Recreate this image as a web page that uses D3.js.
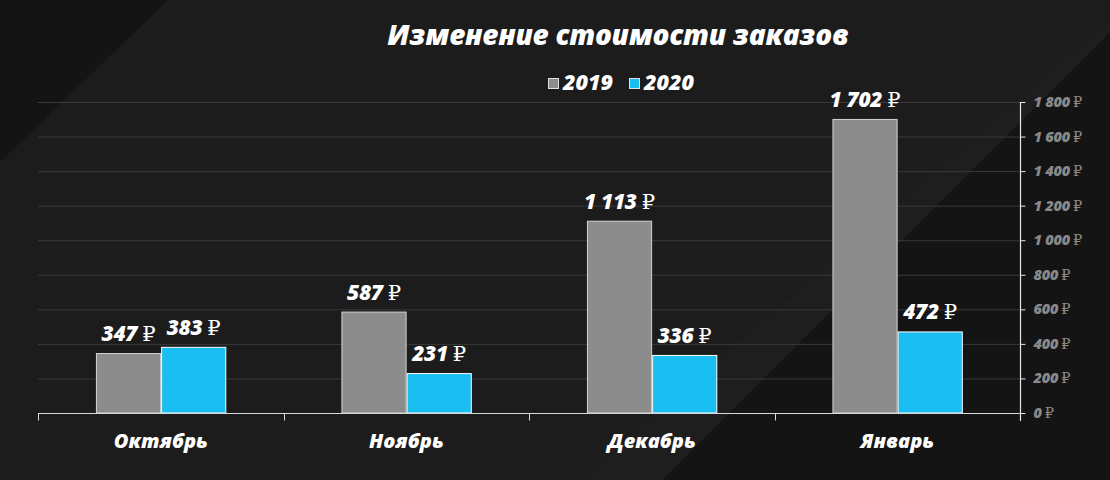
<!DOCTYPE html>
<html lang="ru">
<head>
<meta charset="utf-8">
<script src="https://cdn.jsdelivr.net/npm/d3@7/dist/d3.min.js"></script>
<style>
  html, body { margin: 0; padding: 0; background: #1c1c1c; }
  svg { display: block; }
  text { font-family: "Open Sans", "DejaVu Sans", sans-serif; }
</style>
</head>
<body>
<svg id="chart" width="1110" height="480"></svg>
<script>
// Monthly average order value, 2019 vs 2020
const months = ["Октябрь", "Ноябрь", "Декабрь", "Январь"];
const seriesNames = ["2019", "2020"];
const values2019 = [347, 587, 1113, 1702];
const values2020 = [383, 231, 336, 472];
const yTicks = [0, 200, 400, 600, 800, 1000, 1200, 1400, 1600, 1800];
const titleText = "Изменение стоимости заказов";
const currency = "₽";

const W = 1110, H = 480;
const margin = { left: 38, right: 90, top: 102, bottom: 67 };
const colors = { "2019": "#8c8c8c", "2020": "#1bbef0" };
const strokes = { "2019": "#d4d4d4", "2020": "#ffffff" };

const svg = d3.select("#chart");

// background with diagonal shading
svg.append("rect").attr("width", W).attr("height", H).attr("fill", "#1c1c1c");
svg.append("polygon").attr("points", "0,0 168,0 0,162").attr("fill", "#141414");
svg.append("polygon").attr("points", `${W},20 ${W},${H} 580,${H}`).attr("fill", "#1e1e1e");
svg.append("polygon").attr("points", `${W},32 ${W},${H} 662,${H}`).attr("fill", "#141414");

const fmt = d3.formatLocale({ decimal: ",", thousands: "\u202f", grouping: [3], currency: ["", ""] }).format(",d");
const fmtNum = v => fmt(v).replace(/\u202f/g, " ");

const x = d3.scaleBand().domain(months).range([margin.left, W - margin.right]).padding(0);
const bw = x.bandwidth();
const xs = d3.scaleBand().domain(seriesNames).range([bw * 0.236, bw * 0.767]).padding(0);
const y = d3.scaleLinear().domain([0, 1800]).range([H - margin.bottom, margin.top]);

// gridlines
svg.append("g").selectAll("line").data(yTicks.filter(t => t > 0)).join("line")
  .attr("x1", margin.left).attr("x2", W - margin.right)
  .attr("y1", d => y(d) + 0.5).attr("y2", d => y(d) + 0.5)
  .attr("stroke", "#3a3a3a").attr("stroke-width", 1);

// bars
const rows = months.map((m, i) => ({ month: m, vals: [
  { s: "2019", v: values2019[i] }, { s: "2020", v: values2020[i] }] }));

const groups = svg.append("g").selectAll("g").data(rows).join("g")
  .attr("transform", d => `translate(${x(d.month)},0)`);

groups.selectAll("rect").data(d => d.vals).join("rect")
  .attr("x", d => xs(d.s) + 0.5)
  .attr("y", d => y(d.v) + 0.5)
  .attr("width", xs.bandwidth() - 1)
  .attr("height", d => y(0) - y(d.v) - 0.5)
  .attr("fill", d => colors[d.s])
  .attr("stroke", d => strokes[d.s])
  .attr("stroke-width", 1);

// value labels
const vl = groups.selectAll("text.val").data(d => d.vals).join("text")
  .attr("class", "val")
  .attr("x", d => xs(d.s) + xs.bandwidth() / 2)
  .attr("y", d => y(d.v) - 12)
  .attr("text-anchor", "middle")
  .attr("fill", "#ffffff");
vl.append("tspan").attr("font-size", 21).attr("font-weight", 800).attr("font-style", "italic")
  .attr("letter-spacing", -0.3).text(d => fmtNum(d.v));
vl.append("tspan").attr("font-size", 21).attr("font-family", "DejaVu Serif, Liberation Serif, serif")
  .attr("font-weight", 400).attr("dx", 5).text(currency);

// x axis
const xAxis = svg.append("g").attr("transform", `translate(0,${y(0) + 0.5})`);
xAxis.append("line").attr("x1", margin.left).attr("x2", W - margin.right + 5)
  .attr("stroke", "#d9d9d9").attr("stroke-width", 1.2);
const boundaries = months.map(m => x(m)).concat([W - margin.right]);
xAxis.selectAll("line.tk").data(boundaries).join("line").attr("class", "tk")
  .attr("x1", d => Math.round(d) + 0.5).attr("x2", d => Math.round(d) + 0.5)
  .attr("y1", 0).attr("y2", 7).attr("stroke", "#d9d9d9").attr("stroke-width", 1);
xAxis.selectAll("text").data(months).join("text")
  .attr("x", d => x(d) + bw / 2).attr("y", 34)
  .attr("text-anchor", "middle").attr("fill", "#ffffff")
  .attr("font-size", 20).attr("font-weight", 800).attr("font-style", "italic")
  .attr("letter-spacing", 0)
  .text(d => d);

// right y axis
const yAxisX = W - margin.right + 0.5;
const yAxis = svg.append("g");
yAxis.append("line").attr("x1", yAxisX).attr("x2", yAxisX)
  .attr("y1", y(1800)).attr("y2", y(0) + 8)
  .attr("stroke", "#e6e6e6").attr("stroke-width", 1.2);
yAxis.selectAll("line.tk").data(yTicks).join("line").attr("class", "tk")
  .attr("x1", yAxisX).attr("x2", yAxisX + 5)
  .attr("y1", d => y(d) + 0.5).attr("y2", d => y(d) + 0.5)
  .attr("stroke", "#e6e6e6").attr("stroke-width", 1);
const tl = yAxis.selectAll("text").data(yTicks).join("text")
  .attr("x", yAxisX + 13).attr("y", d => y(d) + 5)
  .attr("fill", "#8a8a8a");
tl.append("tspan").attr("font-size", 14.5).attr("font-weight", 800).attr("font-style", "italic")
  .attr("letter-spacing", -0.2).text(d => fmtNum(d));
tl.append("tspan").attr("font-size", 14.5).attr("font-family", "DejaVu Serif, Liberation Serif, serif")
  .attr("dx", 3).text(currency);

// title
svg.append("text").attr("x", 618).attr("y", 45).attr("text-anchor", "middle")
  .attr("fill", "#ffffff").attr("font-size", 28).attr("font-weight", 800)
  .attr("font-style", "italic").attr("letter-spacing", -0.3).text(titleText);

// legend
const legend = svg.append("g").attr("transform", "translate(548,0)");
const lg = legend.selectAll("g").data(seriesNames).join("g")
  .attr("transform", (d, i) => `translate(${i * 81},0)`);
lg.append("rect").attr("x", 0.5).attr("y", 78.5).attr("width", 10).attr("height", 10)
  .attr("fill", d => colors[d]).attr("stroke", "#e0e0e0").attr("stroke-width", 1);
lg.append("text").attr("x", 15).attr("y", 89.5).attr("fill", "#ffffff")
  .attr("font-size", 21.5).attr("font-weight", 800).attr("font-style", "italic")
  .attr("letter-spacing", 0).text(d => d);
</script>
</body>
</html>
